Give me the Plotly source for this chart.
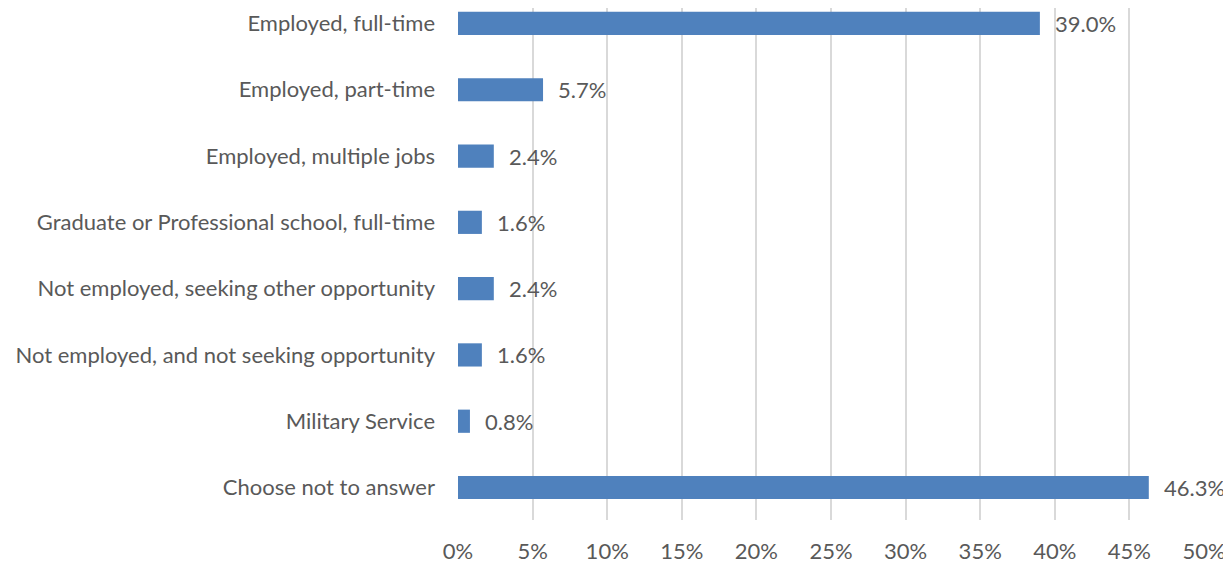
import plotly.graph_objects as go

categories = [
    "Employed, full-time",
    "Employed, part-time",
    "Employed, multiple jobs",
    "Graduate or Professional school, full-time",
    "Not employed, seeking other opportunity",
    "Not employed, and not seeking opportunity",
    "Military Service",
    "Choose not to answer",
]
shares = [39.0, 5.7, 2.4, 1.6, 2.4, 1.6, 0.8, 46.3]
tick_vals = [0, 5, 10, 15, 20, 25, 30, 35, 40, 45, 50]
tick_text = [f"{v}%" for v in tick_vals]

BAR = "#4F81BD"
GRID = "#D9D9D9"
TEXT = "#595959"
FONT = "Lato, sans-serif"
SIZE = 22

fig = go.Figure(go.Bar(
    x=shares,
    y=categories,
    orientation="h",
    marker=dict(color=BAR, line=dict(width=0)),
    hoverinfo="skip",
))

for cat, val in zip(categories, shares):
    fig.add_annotation(
        x=val, y=cat, text=f"{val:.1f}%",
        showarrow=False, xanchor="left", xshift=13,
        font=dict(family=FONT, size=SIZE, color=TEXT),
    )

# page body has an 8px margin, so the figure is trimmed to fit the window
fig.update_layout(
    width=1223, height=557,
    plot_bgcolor="white", paper_bgcolor="white",
    font=dict(family=FONT, size=SIZE, color=TEXT),
    bargap=0.65,
    showlegend=False,
    margin=dict(l=450, r=27, t=0, b=45, autoexpand=False),
    xaxis=dict(
        range=[0, 50], tickvals=tick_vals, ticktext=tick_text,
        showgrid=True, gridcolor=GRID, gridwidth=1.5,
        zeroline=False, showline=False, ticks="",
        ticklabelstandoff=16, automargin=False,
    ),
    yaxis=dict(
        categoryorder="array", categoryarray=categories,
        range=[7.49, -0.233],
        showgrid=False, zeroline=False, showline=False, ticks="",
        ticklabelstandoff=22, automargin=False,
    ),
)

fig.write_html("out.html")
